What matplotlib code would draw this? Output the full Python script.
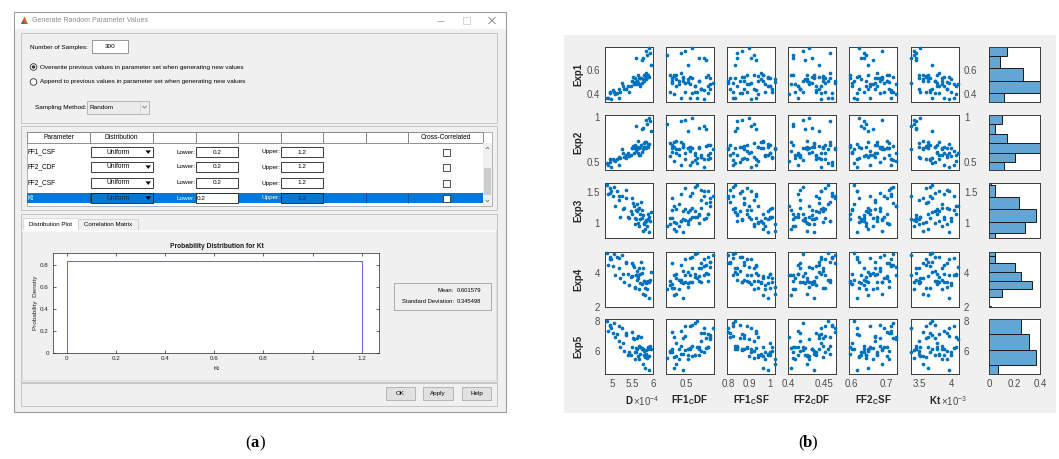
import numpy as np
import matplotlib
matplotlib.use('Agg')
import matplotlib.pyplot as plt
from matplotlib.patches import Rectangle, Circle, Polygon
from matplotlib.ticker import FuncFormatter

plt.rcParams['font.family'] = ['Liberation Sans', 'DejaVu Sans']
plt.rcParams['mathtext.fontset'] = 'custom'
plt.rcParams['mathtext.rm'] = 'Liberation Sans'
plt.rcParams['mathtext.it'] = 'Liberation Sans:italic'
plt.rcParams['mathtext.bf'] = 'Liberation Sans:bold'

W, H = 1059, 459

# ---------------- dialog settings (a) ----------------
n_samples = 300
overwrite_txt = 'Overwrite previous values in parameter set when generating new values'
append_txt = 'Append to previous values in parameter set when generating new values'
sampling_method = 'Random'
table_headers = ['Parameter', 'Distribution', '', '', '', '', '', '', 'Cross-Correlated']
param_names = ['FF1_CSF', 'FF2_CDF', 'FF2_CSF', 'Kt']
param_dist = ['Uniform', 'Uniform', 'Uniform', 'Uniform']
param_lower = [0.2, 0.2, 0.2, 0.2]
param_upper = [1.2, 1.2, 1.2, 1.2]

kt_low, kt_high = 0.0, 1.2
kt_density = 0.833
kt_mean = 0.601579
kt_std = 0.345498
pdf_xlim = (-0.056, 1.27)
pdf_ylim = (0, 0.91)
pdf_xticks = [0, 0.2, 0.4, 0.6, 0.8, 1.0, 1.2]
pdf_yticks = [0, 0.2, 0.4, 0.6, 0.8]

# ---------------- sampled parameters and experiments (b) ----------------
D = np.array([4.91, 5.75, 5.55, 5.87, 5.18, 5.63, 4.98, 5.82, 5.46, 5.70,
              5.07, 5.90, 5.60, 5.29, 5.79, 4.87, 5.66, 5.51, 5.84, 5.24,
              5.72, 5.38, 5.92, 5.02, 5.58, 5.76, 5.13, 5.64, 5.49, 5.85,
              4.94, 5.69, 5.33, 5.80, 5.53, 5.94, 5.20, 5.62, 5.73, 5.42,
              5.05, 5.83, 5.59, 5.88, 5.27, 5.68, 4.96, 5.77, 5.48, 5.91,
              5.16, 5.65, 5.81, 5.35, 5.57]) * 1e-4
FF1_CDF = [0.477, 0.553, 0.439, 0.591, 0.515, 0.458, 0.572, 0.496, 0.534, 0.600,
           0.449, 0.524, 0.487, 0.562, 0.430, 0.543, 0.468, 0.581, 0.506, 0.610,
           0.439, 0.534, 0.477, 0.572, 0.515, 0.458, 0.591, 0.496, 0.553, 0.420,
           0.524, 0.487, 0.562, 0.449, 0.600, 0.506, 0.543, 0.468, 0.581, 0.430,
           0.534, 0.477, 0.572, 0.515, 0.458, 0.591, 0.496, 0.553, 0.439, 0.487,
           0.562, 0.524, 0.449, 0.600, 0.506]
FF1_CSF = [0.932, 0.844, 0.998, 0.888, 0.822, 0.965, 0.910, 0.866, 0.987, 0.811,
           0.943, 0.899, 0.855, 1.009, 0.921, 0.833, 0.976, 0.877, 0.954, 0.800,
           0.910, 0.998, 0.844, 0.932, 0.888, 1.020, 0.866, 0.822, 0.965, 0.921,
           0.855, 0.987, 0.811, 0.943, 0.899, 0.833, 1.009, 0.877, 0.932, 0.976,
           0.822, 0.954, 0.910, 0.866, 0.998, 0.844, 0.888, 0.943, 0.800, 0.987,
           0.921, 0.833, 0.965, 0.877, 1.020]
FF2_CDF = [0.414, 0.433, 0.451, 0.407, 0.461, 0.426, 0.445, 0.420, 0.439, 0.458,
           0.401, 0.429, 0.448, 0.417, 0.436, 0.455, 0.410, 0.442, 0.423, 0.464,
           0.433, 0.414, 0.458, 0.439, 0.404, 0.426, 0.445, 0.451, 0.420, 0.407,
           0.461, 0.436, 0.417, 0.448, 0.429, 0.442, 0.410, 0.455, 0.423, 0.439,
           0.420, 0.458, 0.407, 0.433, 0.445, 0.414, 0.451, 0.426, 0.464, 0.436,
           0.417, 0.448, 0.404, 0.442, 0.429]
FF2_CSF = [0.715, 0.636, 0.675, 0.596, 0.655, 0.702, 0.616, 0.688, 0.642, 0.669,
           0.728, 0.622, 0.682, 0.649, 0.708, 0.609, 0.662, 0.721, 0.629, 0.695,
           0.603, 0.675, 0.636, 0.715, 0.655, 0.688, 0.616, 0.669, 0.702, 0.642,
           0.682, 0.596, 0.708, 0.622, 0.728, 0.649, 0.695, 0.609, 0.662, 0.636,
           0.721, 0.675, 0.629, 0.688, 0.603, 0.655, 0.715, 0.642, 0.702, 0.616,
           0.669, 0.682, 0.649, 0.622, 0.708]
KT = np.array([3.88, 3.45, 3.67, 3.78, 4.03, 3.56, 3.96, 3.42, 3.81, 3.63,
               4.06, 3.52, 3.74, 3.92, 3.49, 3.70, 3.85, 3.60, 3.99, 3.38,
               3.78, 3.88, 3.45, 3.67, 4.03, 3.56, 3.81, 3.96, 3.63, 3.42,
               3.74, 3.49, 3.92, 3.60, 4.10, 3.70, 3.52, 3.85, 3.45, 3.99,
               3.67, 3.81, 3.38, 3.88, 3.78, 4.06, 3.60, 3.74, 3.56, 3.96,
               3.49, 3.85, 3.63, 3.70, 3.92]) * 1e-3

EXP1 = [0.37, 0.70, 0.53, 0.56, 0.37, 0.56, 0.36, 0.76, 0.47, 0.53,
        0.40, 0.78, 0.51, 0.44, 0.56, 0.37, 0.48, 0.54, 0.52, 0.49,
        0.49, 0.47, 0.74, 0.43, 0.48, 0.52, 0.41, 0.49, 0.51, 0.72,
        0.41, 0.53, 0.44, 0.55, 0.48, 0.64, 0.42, 0.51, 0.68, 0.42,
        0.42, 0.57, 0.70, 0.54, 0.47, 0.47, 0.42, 0.51, 0.51, 0.54,
        0.44, 0.53, 0.56, 0.44, 0.50]
EXP2 = [0.46, 0.88, 0.69, 0.69, 0.47, 0.73, 0.44, 0.97, 0.58, 0.69,
        0.51, 0.99, 0.67, 0.55, 0.71, 0.49, 0.58, 0.68, 0.65, 0.64,
        0.61, 0.60, 0.95, 0.53, 0.62, 0.64, 0.53, 0.60, 0.65, 0.92,
        0.50, 0.67, 0.58, 0.67, 0.60, 0.84, 0.54, 0.64, 0.87, 0.56,
        0.52, 0.72, 0.90, 0.67, 0.60, 0.58, 0.53, 0.66, 0.65, 0.70,
        0.55, 0.65, 0.72, 0.54, 0.65]
EXP3 = [1.47, 1.13, 1.08, 1.15, 1.44, 1.00, 1.52, 1.05, 1.19, 1.34,
        1.28, 1.09, 1.20, 1.24, 0.98, 1.62, 0.96, 1.33, 1.04, 1.44,
        1.21, 1.09, 1.04, 1.43, 1.21, 0.88, 1.51, 1.22, 1.15, 0.96,
        1.49, 1.06, 1.53, 1.02, 1.27, 1.18, 1.09, 1.30, 1.08, 1.08,
        1.58, 1.04, 1.07, 1.07, 1.23, 1.15, 1.57, 1.00, 1.41, 0.86,
        1.37, 1.24, 0.90, 1.41, 0.99]
EXP4 = [4.50, 4.28, 3.13, 3.55, 4.88, 3.70, 4.83, 3.47, 3.75, 4.65,
        3.91, 3.49, 4.10, 3.48, 3.55, 5.17, 3.08, 4.49, 3.43, 5.08,
        3.34, 3.97, 3.59, 4.43, 3.87, 2.78, 4.93, 3.89, 3.81, 3.05,
        4.95, 3.44, 4.62, 3.11, 4.34, 4.08, 3.68, 3.58, 4.02, 3.32,
        5.11, 3.48, 3.87, 3.49, 3.93, 3.94, 4.85, 3.56, 4.61, 2.55,
        4.31, 4.28, 2.70, 4.66, 3.20]
EXP5 = [7.34, 6.13, 5.96, 6.24, 7.69, 5.69, 7.51, 6.10, 5.72, 6.90,
        6.94, 5.65, 6.89, 5.98, 6.03, 8.02, 5.48, 6.89, 5.75, 7.54,
        6.14, 5.71, 6.34, 7.18, 6.22, 5.12, 7.11, 7.02, 6.30, 5.53,
        7.75, 5.83, 7.23, 5.63, 6.77, 6.12, 6.30, 6.13, 6.19, 5.93,
        7.88, 5.77, 5.93, 6.11, 6.52, 6.29, 7.67, 5.71, 7.29, 4.75,
        6.69, 6.34, 4.90, 7.08, 5.46]

input_labels = [r'$\mathbf{D}$', r'$\mathbf{FF1}_\mathbf{C}\mathbf{DF}$', r'$\mathbf{FF1}_\mathbf{C}\mathbf{SF}$',
                r'$\mathbf{FF2}_\mathbf{C}\mathbf{DF}$', r'$\mathbf{FF2}_\mathbf{C}\mathbf{SF}$', r'$\mathbf{Kt}$']
output_labels = ['Exp1', 'Exp2', 'Exp3', 'Exp4', 'Exp5']
x_limits = [(4.83e-4, 6.0e-4), (0.415, 0.615), (0.795, 1.022), (0.40, 0.466), (0.594, 0.731), (3.375e-3, 4.11e-3)]
y_limits = [(0.333, 0.79), (0.41, 1.02), (0.76, 1.645), (2.0, 5.24), (4.47, 8.13)]
x_ticks = [[5e-4, 5.5e-4, 6e-4], [0.5], [0.8, 0.9, 1.0], [0.4, 0.45], [0.6, 0.7], [3.5e-3, 4e-3]]
y_ticks = [[0.4, 0.6], [0.5, 1], [1, 1.5], [2, 4], [6, 8]]
x_scale = [1e4, 1, 1, 1, 1, 1e3]

# histogram of each experiment (bin edges and fraction of samples)
hist_edges = [[0.31, 0.411, 0.51, 0.614, 0.719, 0.822],
              [0.397, 0.497, 0.60, 0.707, 0.81, 0.917, 1.02],
              [0.64, 0.834, 1.025, 1.222, 1.424, 1.613, 1.81],
              [1.6, 2.08, 2.57, 3.04, 3.53, 4.08, 4.57, 5.02, 5.5],
              [4.07, 5.07, 6.07, 7.11, 8.13]]
hist_frac = [[0.12, 0.40, 0.27, 0.086, 0.14],
             [0.12, 0.20, 0.40, 0.14, 0.05, 0.10],
             [0.05, 0.285, 0.37, 0.238, 0.05, 0.016],
             [0.016, 0.0, 0.104, 0.34, 0.25, 0.20, 0.05, 0.05],
             [0.067, 0.367, 0.317, 0.25]]
hist_ticks = [0, 0.2, 0.4]

fig = plt.figure(figsize=(W / 100, H / 100), dpi=100)
bg = fig.add_axes([0, 0, 1, 1])
bg.set_xlim(0, W)
bg.set_ylim(H, 0)
bg.axis('off')


def box(x0, y0, x1, y1, fc='none', ec='none', lw=0.7, z=1):
    bg.add_patch(Rectangle((x0, y0), x1 - x0, y1 - y0, facecolor=fc,
                           edgecolor=ec, linewidth=lw, zorder=z))


def label(x, y, s, size=4.6, ha='left', color='black', weight='normal', rot=0, z=5):
    return bg.text(x, y, s, fontsize=size, ha=ha, va='center', color=color,
                   fontweight=weight, rotation=rot, zorder=z)


def line(xs, ys, color='#555555', lw=0.6, z=4):
    bg.plot(xs, ys, color=color, lw=lw, zorder=z, solid_capstyle='butt')


def px_axes(x0, y0, x1, y1):
    return fig.add_axes([x0 / W, 1 - y1 / H, (x1 - x0) / W, (y1 - y0) / H])


# ================= (a) parameter dialog =================
box(14, 12, 506, 412, fc='#f0f0f0', ec='#9b9b9b', lw=0.8)
box(14.5, 12.5, 505.5, 29, fc='white')
bg.add_patch(Polygon([(21, 24), (24.5, 16.5), (28, 24)], closed=True, fc='#d9641e', ec='none', zorder=2))
bg.add_patch(Polygon([(21, 24), (23, 20.5), (25.5, 24)], closed=True, fc='#2a6fb0', ec='none', zorder=3))
label(32, 20.5, 'Generate Random Parameter Values', 5, color='#8c8c8c')
line([437, 444], [20.5, 20.5], color='#a8a8a8')
box(462.5, 17, 469.5, 24, ec='#d0d0d0', lw=0.6)
line([488.5, 495.5], [17, 24], color='#777777')
line([488.5, 495.5], [24, 17], color='#777777')

# sampling options
box(21, 33, 497, 123, ec='#c4c4c4')
label(30, 47, 'Number of Samples:', 4.6)
box(92, 40, 128, 53, fc='white', ec='#8a8a8a', lw=0.6)
label(110, 46.5, str(n_samples), 4.6, ha='center')
for y, txt, on in [(67, overwrite_txt, True), (82, append_txt, False)]:
    bg.add_patch(Circle((33.5, y), 3.3, fc='white', ec='#333333', lw=0.6, zorder=3))
    if on:
        bg.add_patch(Circle((33.5, y), 1.7, fc='#333333', ec='none', zorder=4))
    label(40, y, txt, 4.6)
label(35, 108, 'Sampling Method:', 4.6)
box(87, 101, 149, 113.5, fc='#ececec', ec='#adadad', lw=0.6)
label(89, 107.2, sampling_method, 4.6)
line([140, 140], [101.5, 113], color='#d0d0d0', lw=0.5)
line([142.5, 144.5, 146.5], [106, 108, 106], color='#666666', lw=0.5)

# parameter table
box(21, 126, 497, 210, ec='#c4c4c4')
col_edges = [27, 90, 153, 196, 238, 281, 323, 366, 408, 483]
box(27, 132, 492, 206, fc='white', ec='#a8a8a8', lw=0.6)
for i in range(len(col_edges) - 1):
    box(col_edges[i], 132, col_edges[i + 1], 143, fc='white', ec='#7d7d7d', lw=0.6, z=2)
    if table_headers[i]:
        label((col_edges[i] + col_edges[i + 1]) / 2, 137.6, table_headers[i], 4.8, ha='center')

row_mid = [152, 167, 183, 198]
for r, name in enumerate(param_names):
    y = row_mid[r]
    sel = r == len(param_names) - 1
    fg = 'white' if sel else 'black'
    if sel:
        box(27, y - 5, 483, y + 5, fc='#0078d7', z=1.5)
        for x in col_edges[1:-1]:
            line([x, x], [y - 5, y + 5], color='#1d4d7d', lw=0.6, z=2)
    label(28, y, name, 4.7, color=fg)
    box(90.5, y - 4.6, 153, y + 4.6, fc='#0078d7' if sel else 'white', ec='#1e1e1e', lw=0.6, z=2)
    label(118, y, param_dist[r], 4.8, ha='center', color='#0d2a4a' if sel else 'black')
    bg.add_patch(Polygon([(145.5, y - 1.6), (151, y - 1.6), (148.25, y + 1.9)], closed=True,
                         fc='black', ec='none', zorder=4))
    label(195.5, y, 'Lower:', 4.6, ha='right', color=fg)
    box(196, y - 4.6, 238, y + 4.6, fc='white', ec='#1e1e1e', lw=0.6, z=2)
    if sel:
        label(197, y, f'{param_lower[r]:g}', 4.6)
    else:
        label(217, y, f'{param_lower[r]:g}', 4.6, ha='center')
    label(280.5, y, 'Upper:', 4.6, ha='right', color=fg)
    box(281, y - 4.6, 323, y + 4.6, fc='#0078d7' if sel else 'white', ec='#1e1e1e', lw=0.6, z=2)
    label(302, y, f'{param_upper[r]:g}', 4.6, ha='center', color='#0d2a4a' if sel else 'black')
    box(442.5, y - 3.5, 449.5, y + 3.5, fc='white', ec='#333333', lw=0.6, z=3)

# table scrollbar
box(483, 143, 492, 206, fc='#f0f0f0', z=2)
box(484, 168, 491, 195, fc='#cdcdcd', z=3)
line([485.8, 487.5, 489.2], [149, 147.3, 149], color='#606060', lw=0.5)
line([485.8, 487.5, 489.2], [200, 201.7, 200], color='#606060', lw=0.5)

# tabs with distribution plot
box(21, 214, 497, 382, ec='#c4c4c4')
box(22, 230, 496, 380, fc='#f0f0f0', ec='#d6d6d6', lw=0.5)
line([22, 496], [231, 231], color='white', lw=1.2)
box(23, 218, 78, 231, fc='white', ec='#d0d0d0', lw=0.5, z=2)
box(78, 219, 138, 230, fc='#f0f0f0', ec='#c8c8c8', lw=0.5, z=2)
label(50.5, 224.5, 'Distribution Plot', 4.4, ha='center')
label(108, 224.5, 'Correlation Matrix', 4.4, ha='center')

label(217, 247, 'Probability Distribution for Kt', 4.8, ha='center', weight='bold', color='#1a1a1a')
label(217, 369, 'Kt', 4.6, ha='center', color='#262626')
label(35, 303, 'Probability  Density', 4.6, ha='center', rot=90, color='#262626')

box(394, 283, 491, 310, fc='#f0f0f0', ec='#a0a0a0', lw=0.6)
label(454, 290, 'Mean:', 4.2, ha='right')
label(456.5, 290, f'{kt_mean:.6f}', 4.2)
label(454, 301.5, 'Standard Deviation:', 4.2, ha='right')
label(456.5, 301.5, f'{kt_std:.6f}', 4.2)

# button bar
box(21, 383, 497, 406, ec='#c4c4c4')
for x0, x1, txt in [(386, 415, 'OK'), (423, 453, 'Apply'), (462, 491, 'Help')]:
    box(x0, 387, x1, 400, fc='#e1e1e1', ec='#adadad', lw=0.6)
    label((x0 + x1) / 2, 393.5, txt, 4.5, ha='center')

# ================= (b) scatter matrix background =================
box(564, 35, 1056, 413, fc='#f0f0f0')

# captions
serif = ['Liberation Serif', 'DejaVu Serif']
for cx, letter in [(255, 'a'), (807.5, 'b')]:
    label(cx - 4, 443, '(', 12, ha='right').set_fontfamily(serif)
    label(cx, 443, letter, 12, ha='center', weight='bold').set_fontfamily(serif)
    label(cx + 4, 443, ')', 12, ha='left').set_fontfamily(serif)

# probability density axes
pax = px_axes(53, 253, 379, 353)
pdf_x = [pdf_xlim[0], kt_low, kt_low, kt_high, kt_high, pdf_xlim[1]]
pdf_y = [0, 0, kt_density, kt_density, 0, 0]
pax.plot(pdf_x, pdf_y, color='#6060ee', lw=0.7)
pax.set_xlim(pdf_xlim)
pax.set_ylim(pdf_ylim)
pax.set_xticks(pdf_xticks)
pax.set_yticks(pdf_yticks)
fmt = FuncFormatter(lambda v, p: f'{v:g}')
pax.xaxis.set_major_formatter(fmt)
pax.yaxis.set_major_formatter(fmt)
pax.tick_params(direction='in', length=2, width=0.5, top=True, right=True,
                labelsize=4.5, colors='#262626')
pax.tick_params(axis='x', pad=2.5)
pax.tick_params(axis='y', pad=3)
for sp in pax.spines.values():
    sp.set_color('#262626')
    sp.set_linewidth(0.5)

# scatter matrix
inputs = [D, FF1_CDF, FF1_CSF, FF2_CDF, FF2_CSF, KT]
outputs = [EXP1, EXP2, EXP3, EXP4, EXP5]
col_left = [605, 666, 727, 788, 849, 911]
row_top = [47, 115, 183, 252, 319]
cell_w, cell_h = 48, 55
hist_x0, hist_x1 = 989, 1040
tick_color = '#4d4d4d'


def style(ax):
    for sp in ax.spines.values():
        sp.set_color('#3a3a3a')
        sp.set_linewidth(0.7)
    ax.tick_params(length=0, labelsize=7, colors=tick_color, pad=3.5)
    ax.yaxis.set_major_formatter(FuncFormatter(lambda v, p: f'{v:g}'))


for j in range(5):
    for i in range(6):
        ax = px_axes(col_left[i], row_top[j], col_left[i] + cell_w, row_top[j] + cell_h)
        ax.scatter(inputs[i], outputs[j], s=7, c='#0072bd', linewidths=0, clip_on=False, zorder=3)
        ax.set_xlim(x_limits[i])
        ax.set_ylim(y_limits[j])
        ax.set_xticks(x_ticks[i])
        ax.set_yticks(y_ticks[j])
        style(ax)
        sc = x_scale[i]
        ax.xaxis.set_major_formatter(FuncFormatter(lambda v, p, sc=sc: f'{v * sc:.3g}'))
        ax.tick_params(labelbottom=(j == 4), labelleft=(i == 0), labelright=(i == 5))

    hax = px_axes(hist_x0, row_top[j], hist_x1, row_top[j] + cell_h)
    edges = np.array(hist_edges[j])
    hax.barh(edges[:-1], hist_frac[j], height=np.diff(edges), align='edge',
             color='#62a6d6', edgecolor='#1a1a1a', linewidth=0.7)
    hax.set_xlim(0, 0.4)
    hax.set_ylim(y_limits[j])
    hax.set_yticks([])
    hax.set_xticks(hist_ticks)
    style(hax)
    hax.xaxis.set_major_formatter(FuncFormatter(lambda v, p: f'{v:g}'))
    hax.tick_params(labelbottom=(j == 4))

for j, name in enumerate(output_labels):
    label(578, row_top[j] + cell_h / 2, name, 7, ha='center', weight='bold', rot=90, color='#262626')
for i, name in enumerate(input_labels):
    label(col_left[i] + cell_w / 2, 400, name, 7, ha='center', color='#262626')
label(633, 401.5, r'$\times10^{-4}$', 7, color=tick_color)
label(941, 401.5, r'$\times10^{-3}$', 7, color=tick_color)

fig.savefig('out.png', dpi=100)
